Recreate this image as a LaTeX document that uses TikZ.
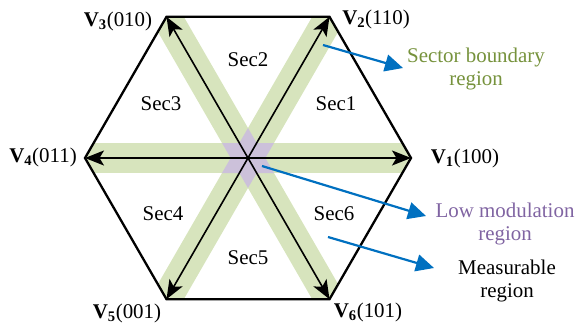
\documentclass[tikz,border=0pt]{standalone}
\usepackage{fontspec}
\setmainfont{Liberation Serif}
\usetikzlibrary{arrows.meta}
\definecolor{bandgreen}{RGB}{215,228,189}
\definecolor{lowpurple}{RGB}{204,193,218}
\definecolor{txtgreen}{RGB}{118,146,60}
\definecolor{txtpurple}{RGB}{128,100,162}
\definecolor{arrowblue}{RGB}{0,112,192}
\begin{document}
\begin{tikzpicture}[x=1bp,y=-1bp,
  hexline/.style={line width=2.3bp, line join=miter},
  band/.style={line width=30bp, draw=bandgreen},
  vec/.style={line width=1.6bp, -{Stealth[length=19bp,width=15bp,inset=4.5bp]}},
  callout/.style={line width=2.2bp, draw=arrowblue, -{Triangle[length=18bp,width=17bp]}},
  lbl/.style={font=\fontsize{21}{24}\selectfont, inner sep=0pt},
  note/.style={lbl, align=center}]
\useasboundingbox (0,0) rectangle (576,328);
\coordinate (O) at (248,158);
\coordinate (V1) at (411,158);
\coordinate (V2) at (329.5,16.8);
\coordinate (V3) at (166.5,16.8);
\coordinate (V4) at (85,158);
\coordinate (V5) at (166.5,299.2);
\coordinate (V6) at (329.5,299.2);
% sector boundary bands
\begin{scope}
\clip (V1)--(V2)--(V3)--(V4)--(V5)--(V6)--cycle;
\draw[band] (V1)--(V4);
\draw[band] (V2)--(V5);
\draw[band] (V3)--(V6);
\end{scope}
% low modulation star
\fill[lowpurple] (248,128)--(256.66,143)--(273.98,143)--(265.32,158)--(273.98,173)--(256.66,173)
  --(248,188)--(239.34,173)--(222.02,173)--(230.68,158)--(222.02,143)--(239.34,143)--cycle;
% hexagon
\draw[hexline] (V1)--(V2)--(V3)--(V4)--(V5)--(V6)--cycle;
% vectors
\foreach \v in {V1,V2,V3,V4,V5,V6} \draw[vec] (O)--(\v);
% vertex labels
\node[lbl] (L1) at (465,158) {\textbf{V\textsubscript{1}}(100)};
\node[lbl] (L2) at (376,19) {\textbf{V\textsubscript{2}}(110)};
\node[lbl] (L3) at (118,21) {\textbf{V\textsubscript{3}}(010)};
\node[lbl] (L4) at (43,157) {\textbf{V\textsubscript{4}}(011)};
\node[lbl] (L5) at (127,313) {\textbf{V\textsubscript{5}}(001)};
\node[lbl] (L6) at (368,312) {\textbf{V\textsubscript{6}}(101)};
% sector labels
\node[lbl] (S1) at (336,104) {Sec1};
\node[lbl] (S2) at (248,60) {Sec2};
\node[lbl] (S3) at (161,104) {Sec3};
\node[lbl] (S4) at (163,214) {Sec4};
\node[lbl] (S5) at (248,258) {Sec5};
\node[lbl] (S6) at (334,214) {Sec6};
% notes
\node[note, text=txtgreen] (N1) at (476,69) {Sector boundary\\region};
\node[note, text=txtpurple] (N2) at (505,224) {Low modulation\\region};
\node[note] (N3) at (507,281) {Measurable\\region};
\coordinate (c1s) at (323,45);
\coordinate (c1e) at (403,68);
\coordinate (c2s) at (262,166);
\coordinate (c2e) at (426,216);
\coordinate (c3s) at (328,237);
\coordinate (c3e) at (434,268);
\draw[callout] (c1s)--(c1e);
\draw[callout] (c2s)--(c2e);
\draw[callout] (c3s)--(c3e);
\end{tikzpicture}
\end{document}
